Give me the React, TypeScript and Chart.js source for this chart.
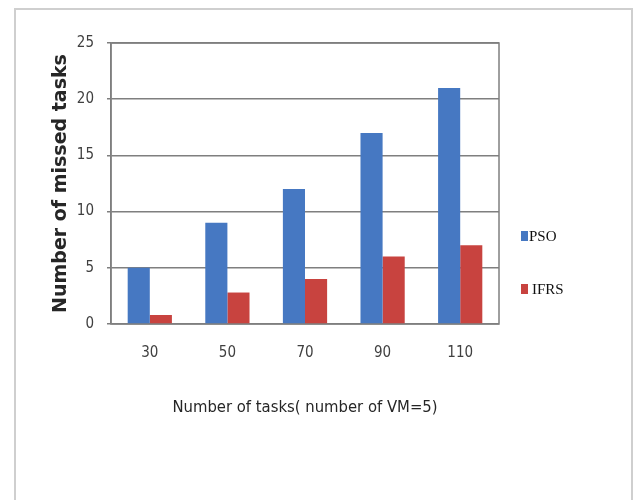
import React, { useEffect, useRef } from "react";
import { Chart, registerables } from "chart.js";

Chart.register(...registerables);

const categories = ["30", "50", "70", "90", "110"];
const psoValues = [5, 9, 12, 17, 21];
const ifrsValues = [0.8, 2.8, 4, 6, 7];
const seriesNames = ["PSO", "IFRS"];
const yTicks = [0, 5, 10, 15, 20, 25];
const xTitle = "Number of tasks( number of VM=5)";
const yTitle = "Number of missed tasks";

const BLUE = "#4678C2";
const RED = "#C8433F";

const frameBox = {
  id: "frameBox",
  beforeDatasetsDraw(chart: any) {
    const { ctx, chartArea } = chart;
    ctx.save();
    ctx.strokeStyle = "#7f7f7f";
    ctx.lineWidth = 1.5;
    ctx.strokeRect(chartArea.left, chartArea.top, chartArea.right - chartArea.left, chartArea.bottom - chartArea.top);
    ctx.restore();
  },
};

const customLegend = {
  id: "customLegend",
  afterDraw(chart: any) {
    const { ctx } = chart;
    const ys = [237, 290];
    ctx.save();
    chart.data.datasets.forEach((ds: any, i: number) => {
      const y = ys[i];
      ctx.fillStyle = ds.backgroundColor;
      ctx.fillRect(521, y - 6, 7, 10);
      ctx.fillStyle = "#111";
      ctx.font = "15px 'Liberation Serif', 'DejaVu Serif', serif";
      ctx.textBaseline = "middle";
      ctx.textAlign = "left";
      ctx.fillText(ds.label, i === 0 ? 529 : 532, y);
    });
    ctx.restore();
  },
};

export default function App() {
  const ref = useRef<HTMLCanvasElement | null>(null);

  useEffect(() => {
    if (!ref.current) return;
    const condensed = "'DejaVu Sans Condensed', 'Liberation Sans Narrow', 'Liberation Sans', sans-serif";
    const chart = new Chart(ref.current, {
      type: "bar",
      data: {
        labels: categories,
        datasets: [
          { label: seriesNames[0], data: psoValues, backgroundColor: BLUE, borderWidth: 0 },
          { label: seriesNames[1], data: ifrsValues, backgroundColor: RED, borderWidth: 0 },
        ],
      },
      options: {
        animation: false,
        responsive: false,
        events: [],
        layout: { padding: { left: 50, right: 144, top: 43, bottom: 82 } },
        datasets: { bar: { categoryPercentage: 0.57, barPercentage: 1 } },
        plugins: { legend: { display: false }, tooltip: { enabled: false } },
        scales: {
          x: {
            grid: { display: false, drawTicks: false },
            border: { display: false },
            ticks: { color: "#404040", font: { family: condensed, size: 15 }, padding: 20 },
            title: {
              display: true,
              text: xTitle,
              color: "#262626",
              font: { family: condensed, size: 16.5 },
              padding: { top: 0, bottom: 0 },
            },
            afterFit(scale: any) {
              scale.height = 94;
            },
          },
          y: {
            min: 0,
            max: 25,
            afterBuildTicks(scale: any) {
              scale.ticks = yTicks.map((v) => ({ value: v }));
            },
            grid: { color: "#7f7f7f", lineWidth: 1.5, drawTicks: true, tickLength: 4 },
            border: { display: true, color: "#7f7f7f", width: 1.5 },
            ticks: { color: "#404040", font: { family: condensed, size: 15 }, padding: 13 },
            title: {
              display: true,
              text: yTitle,
              color: "#262626",
              font: { family: "'DejaVu Sans', sans-serif", size: 19, weight: "bold" },
              padding: { top: 0, bottom: 0 },
            },
            afterFit(scale: any) {
              scale.width = 61;
            },
          },
        },
      },
      plugins: [frameBox, customLegend],
    } as any);
    return () => chart.destroy();
  }, []);

  return (
    <div style={{ position: "absolute", left: 0, top: 0, width: 643, height: 500, background: "#fff", overflow: "hidden" }}>
      <div
        style={{
          position: "absolute",
          left: 14,
          top: 8,
          width: 619,
          height: 520,
          border: "2px solid #cfcfcf",
          boxSizing: "border-box",
        }}
      />
      <canvas ref={ref} width={643} height={500} style={{ position: "absolute", left: 0, top: 0 }} />
    </div>
  );
}
